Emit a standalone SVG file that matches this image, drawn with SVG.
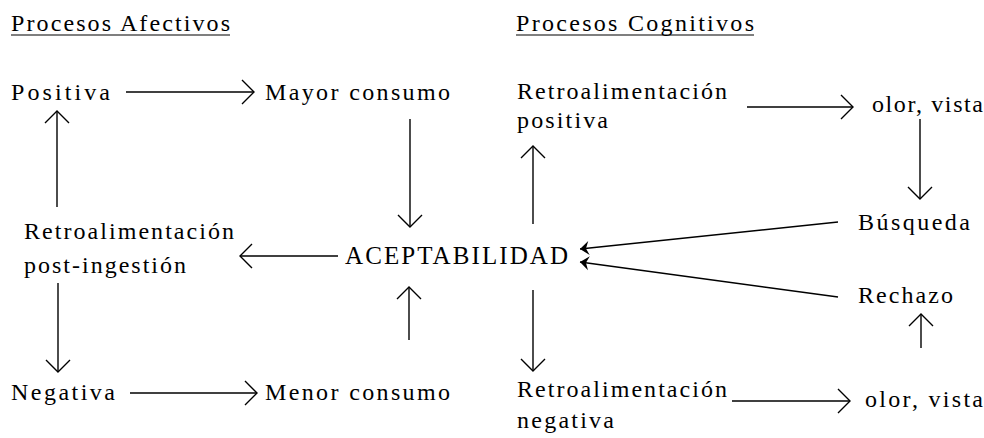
<svg xmlns="http://www.w3.org/2000/svg" width="984" height="438" viewBox="0 0 984 438">
<style>
text{font-family:"Liberation Serif","Times New Roman",serif;font-size:24px;fill:#000}
.c{stroke:#000;stroke-width:1.4;fill:none}
.u{stroke:#000;stroke-width:1.2}
</style>
<defs>
<marker id="a" markerUnits="userSpaceOnUse" markerWidth="30" markerHeight="30" viewBox="-15 -15 30 30" refX="0" refY="0" orient="auto" overflow="visible">
<path d="M-12,-12 L0,0 L-12,12" fill="none" stroke="#000" stroke-width="1.4"/>
</marker>
<marker id="f" markerUnits="userSpaceOnUse" markerWidth="20" markerHeight="20" viewBox="-10 -10 20 20" refX="0" refY="0" orient="auto" overflow="visible">
<path d="M0,0 L-9,-7 L-6,0 L-9,7 Z" fill="#000"/>
</marker>
</defs>
<rect width="984" height="438" fill="#fff"/>
<g id="headers">
<text x="11" y="31" textLength="219" lengthAdjust="spacing">Procesos Afectivos</text>
<line class="u" x1="11" y1="35" x2="230" y2="35"/>
<text x="516" y="31" textLength="238" lengthAdjust="spacing">Procesos Cognitivos</text>
<line class="u" x1="516" y1="35" x2="754" y2="35"/>
</g>
<g id="positiva"><text x="11" y="100" textLength="99" lengthAdjust="spacing">Positiva</text></g>
<g id="mayor"><text x="265" y="100" textLength="185" lengthAdjust="spacing">Mayor consumo</text></g>
<g id="retro-pos"><text x="517" y="99" textLength="210" lengthAdjust="spacing">Retroalimentación</text><text x="517" y="128" textLength="91" lengthAdjust="spacing">positiva</text></g>
<g id="olor1"><text x="872" y="112" textLength="111" lengthAdjust="spacing">olor, vista</text></g>
<g id="retro-post"><text x="24" y="239" textLength="210" lengthAdjust="spacing">Retroalimentación</text><text x="24" y="273" textLength="162" lengthAdjust="spacing">post-ingestión</text></g>
<g id="aceptabilidad"><text x="345" y="264" textLength="223" lengthAdjust="spacing" style="font-size:25px">ACEPTABILIDAD</text></g>
<g id="busqueda"><text x="858" y="230" textLength="112" lengthAdjust="spacing">Búsqueda</text></g>
<g id="rechazo"><text x="858" y="303" textLength="95" lengthAdjust="spacing">Rechazo</text></g>
<g id="negativa"><text x="11" y="400" textLength="104" lengthAdjust="spacing">Negativa</text></g>
<g id="menor"><text x="265" y="400" textLength="185" lengthAdjust="spacing">Menor consumo</text></g>
<g id="retro-neg"><text x="517" y="397" textLength="210" lengthAdjust="spacing">Retroalimentación</text><text x="517" y="428" textLength="97" lengthAdjust="spacing">negativa</text></g>
<g id="olor2"><text x="865" y="407" textLength="118" lengthAdjust="spacing">olor, vista</text></g>
<g id="connectors">
<line class="c" x1="126" y1="92" x2="254" y2="92" marker-end="url(#a)"/>
<line class="c" x1="57" y1="207" x2="57" y2="111" marker-end="url(#a)"/>
<line class="c" x1="58" y1="283" x2="58" y2="372" marker-end="url(#a)"/>
<line class="c" x1="130" y1="393" x2="257" y2="393" marker-end="url(#a)"/>
<line class="c" x1="410" y1="119" x2="410" y2="227" marker-end="url(#a)"/>
<line class="c" x1="409" y1="340" x2="409" y2="287" marker-end="url(#a)"/>
<line class="c" x1="338" y1="256" x2="240" y2="256" marker-end="url(#a)"/>
<line class="c" x1="533" y1="224" x2="533" y2="146" marker-end="url(#a)"/>
<line class="c" x1="533" y1="290" x2="533" y2="371" marker-end="url(#a)"/>
<line class="c" x1="747" y1="107" x2="853" y2="107" marker-end="url(#a)"/>
<line class="c" x1="920" y1="119" x2="920" y2="199" marker-end="url(#a)"/>
<line class="c" x1="921" y1="348" x2="921" y2="314" marker-end="url(#a)"/>
<line class="c" x1="732" y1="401" x2="850" y2="401" marker-end="url(#a)"/>
<line class="c" x1="838" y1="222" x2="580" y2="249" marker-end="url(#f)"/>
<line class="c" x1="838" y1="297" x2="580" y2="262" marker-end="url(#f)"/>
</g>
</svg>
